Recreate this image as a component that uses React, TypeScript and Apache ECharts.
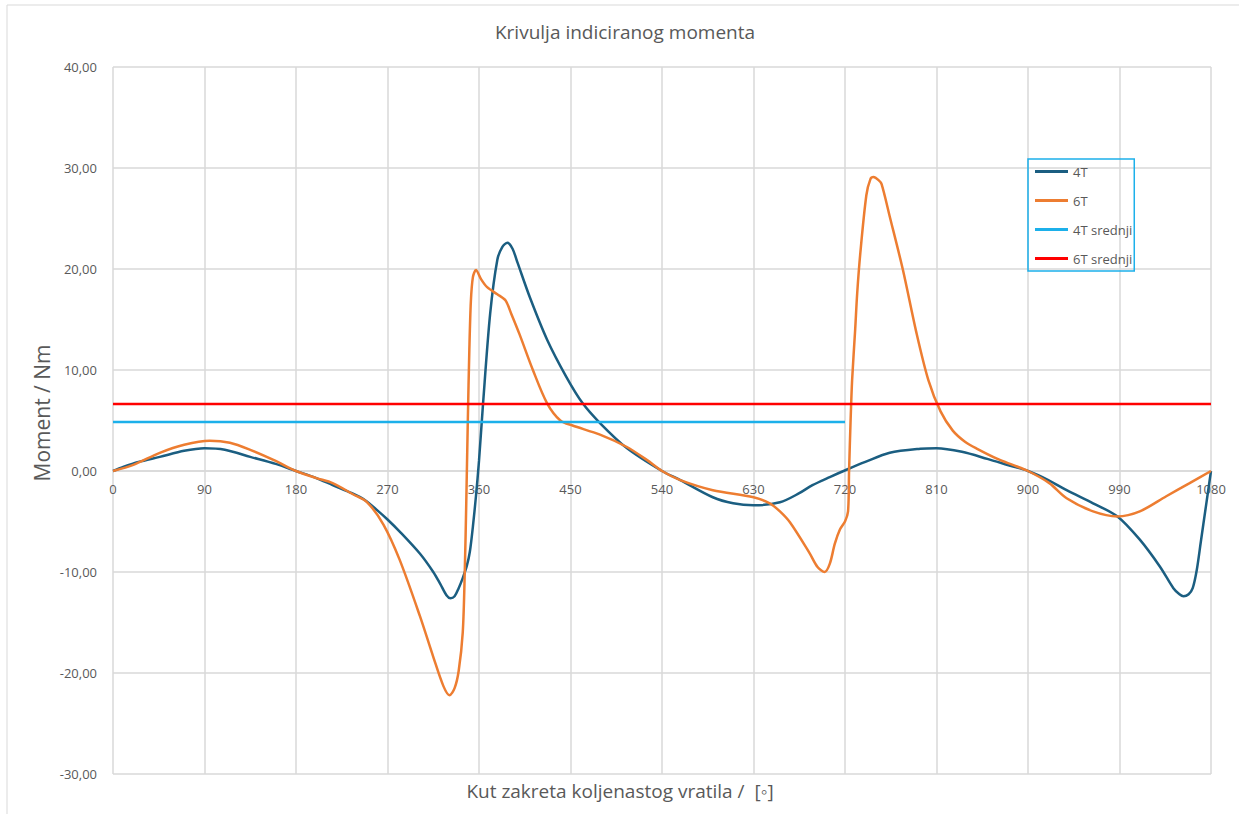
import React, { useEffect, useRef } from "react";
import * as echarts from "echarts";

const titleText = "Krivulja indiciranog momenta";
const xAxisTitle = "Kut zakreta koljenastog vratila /  [◦]";
const yAxisTitle = "Moment / Nm";
const seriesNames = ["4T", "6T", "4T srednji", "6T srednji"];

const angles4T = [0, 10, 25, 46, 70, 90, 110, 135, 160, 180, 200, 216, 235, 248, 260, 270, 282, 302, 315, 322, 328, 332, 336, 340, 344, 348, 351, 354, 357, 360, 364, 371, 378, 383, 388, 393, 398, 410, 427, 446, 462, 479, 505, 540, 558, 590, 610, 630, 656, 675, 688, 705, 722, 740, 764, 794, 810, 835, 860, 880, 900, 920, 938, 964, 988, 1010, 1030, 1043, 1049, 1053, 1058, 1062, 1066, 1070, 1075, 1080];
const values4T = [0, 0.4, 0.9, 1.4, 2.0, 2.25, 2.1, 1.4, 0.7, 0, -0.7, -1.4, -2.2, -2.9, -3.9, -4.8, -6.0, -8.2, -10.0, -11.2, -12.3, -12.6, -12.4, -11.6, -10.6, -9.4, -8.0, -5.5, -2.5, 1.0, 6.7, 15.6, 20.9, 22.2, 22.6, 22.0, 20.6, 17.2, 13.0, 9.3, 6.7, 4.75, 2.3, 0, -0.9, -2.6, -3.2, -3.4, -3.1, -2.2, -1.4, -0.6, 0.15, 0.9, 1.8, 2.2, 2.25, 1.9, 1.2, 0.6, 0, -0.9, -1.9, -3.2, -4.5, -6.8, -9.5, -11.6, -12.2, -12.4, -12.2, -11.6, -9.8, -7.0, -3.5, 0];

const angles6T = [0, 20, 46, 70, 95, 115, 135, 160, 180, 200, 216, 236, 250, 266, 282, 302, 315, 325, 331, 336, 340, 344, 346, 347.5, 349, 350.5, 352, 354, 357, 362, 368, 378, 386, 392, 400, 413, 427, 440, 452, 479, 505, 525, 540, 558, 590, 630, 646, 656, 666, 685, 693, 700, 705, 710, 715, 720, 723, 724, 725.5, 727, 730, 732, 735, 741, 745, 748, 753, 756, 764, 777, 790, 802, 814, 826, 838, 850, 870, 885, 900, 921, 938, 964, 988, 1010, 1036, 1059, 1080];
const values6T = [0, 0.6, 1.8, 2.6, 3.0, 2.8, 2.1, 1.0, 0, -0.7, -1.2, -2.3, -3.1, -5.3, -8.8, -14.4, -18.4, -21.3, -22.2, -21.5, -19.8, -16, -10, -3, 5, 12, 16.8, 19.2, 19.9, 19.0, 18.2, 17.5, 16.9, 15.5, 13.5, 10, 6.7, 5.0, 4.5, 3.6, 2.4, 1.1, 0, -0.9, -1.9, -2.6, -3.2, -4.0, -5.1, -8.1, -9.5, -10.0, -9.2, -7.2, -5.8, -5.0, -4.0, 0, 5, 9, 14, 17.6, 21.5, 27.3, 28.9, 29.1, 28.8, 28.4, 25.2, 19.9, 13.8, 9.0, 5.9, 4.0, 2.9, 2.2, 1.2, 0.6, 0, -1.2, -2.7, -4.0, -4.5, -4.0, -2.5, -1.2, 0];

const mean4TRange = [0, 720];
const mean4TValue = 4.85;
const mean6TRange = [0, 1080];
const mean6TValue = 6.63;

const colors = ["#1b5e81", "#ed7d31", "#1cb0ea", "#ff0000"];
const FONT = "'Open Sans', 'Noto Sans', sans-serif";
const TXT = "#595959";

export default function App() {
  const ref = useRef<HTMLDivElement>(null);
  useEffect(() => {
    if (!ref.current) return;
    const chart = echarts.init(ref.current, undefined, { renderer: "svg" });
    const d4 = angles4T.map((a, i) => [a, values4T[i]]);
    const d6 = angles6T.map((a, i) => [a, values6T[i]]);
    const m4 = mean4TRange.map((a) => [a, mean4TValue]);
    const m6 = mean6TRange.map((a) => [a, mean6TValue]);
    chart.setOption({
      animation: false,
      backgroundColor: "#ffffff",
      color: colors,
      grid: { left: 113, right: 28, top: 67, bottom: 40, containLabel: false },
      graphic: [
        {
          type: "rect",
          shape: { x: 7, y: 5, width: 1260, height: 840 },
          style: { fill: "none", stroke: "#d9d9d9", lineWidth: 1 },
          silent: true,
        },
        {
          type: "text",
          x: 625,
          y: 32,
          style: { text: titleText, fontSize: 19, fontFamily: FONT, fill: TXT, align: "center", verticalAlign: "middle" },
        },
        {
          type: "text",
          x: 620,
          y: 791,
          style: { text: xAxisTitle, fontSize: 19, fontFamily: FONT, fill: TXT, align: "center", verticalAlign: "middle" },
        },
        {
          type: "text",
          x: 42,
          y: 413,
          rotation: Math.PI / 2,
          style: { text: yAxisTitle, fontSize: 21, fontFamily: FONT, fill: TXT, align: "center", verticalAlign: "middle" },
        },
      ],
      legend: {
        orient: "vertical",
        left: 1028,
        top: 159,
        icon: "rect",
        itemWidth: 33,
        itemHeight: 3,
        itemGap: 16,
        padding: [6, 2, 6, 7],
        borderColor: "#1cb0ea",
        borderWidth: 1.5,
        data: seriesNames,
        textStyle: { color: TXT, fontSize: 13, fontFamily: FONT },
      },
      xAxis: {
        type: "value",
        min: 0,
        max: 1080,
        interval: 90,
        offset: -303,
        axisLine: { onZero: false, lineStyle: { color: "#d9d9d9", width: 1.5 } },
        axisTick: { show: false },
        axisLabel: { color: TXT, fontSize: 13, fontFamily: FONT, margin: 11, formatter: (v: number) => String(v) },
        splitLine: { show: true, lineStyle: { color: "#d9d9d9", width: 1.5 } },
      },
      yAxis: {
        type: "value",
        min: -30,
        max: 40,
        interval: 10,
        axisLine: { show: false, onZero: false },
        axisTick: { show: false },
        axisLabel: {
          color: TXT,
          fontSize: 13,
          fontFamily: FONT,
          margin: 16,
          formatter: (v: number) => v.toFixed(2).replace(".", ","),
        },
        splitLine: { show: true, lineStyle: { color: "#d9d9d9", width: 1.5 } },
      },
      series: [
        { name: seriesNames[0], type: "line", data: d4, symbol: "none", smooth: 0.3, lineStyle: { width: 2.5, color: colors[0] } },
        { name: seriesNames[1], type: "line", data: d6, symbol: "none", smooth: 0.3, lineStyle: { width: 2.5, color: colors[1] } },
        { name: seriesNames[2], type: "line", data: m4, symbol: "none", lineStyle: { width: 2.5, color: colors[2] } },
        { name: seriesNames[3], type: "line", data: m6, symbol: "none", lineStyle: { width: 2.5, color: colors[3] } },
      ],
    });
    return () => chart.dispose();
  }, []);
  return <div ref={ref} style={{ position: "fixed", left: 0, top: 0, width: 1239, height: 814 }} />;
}
